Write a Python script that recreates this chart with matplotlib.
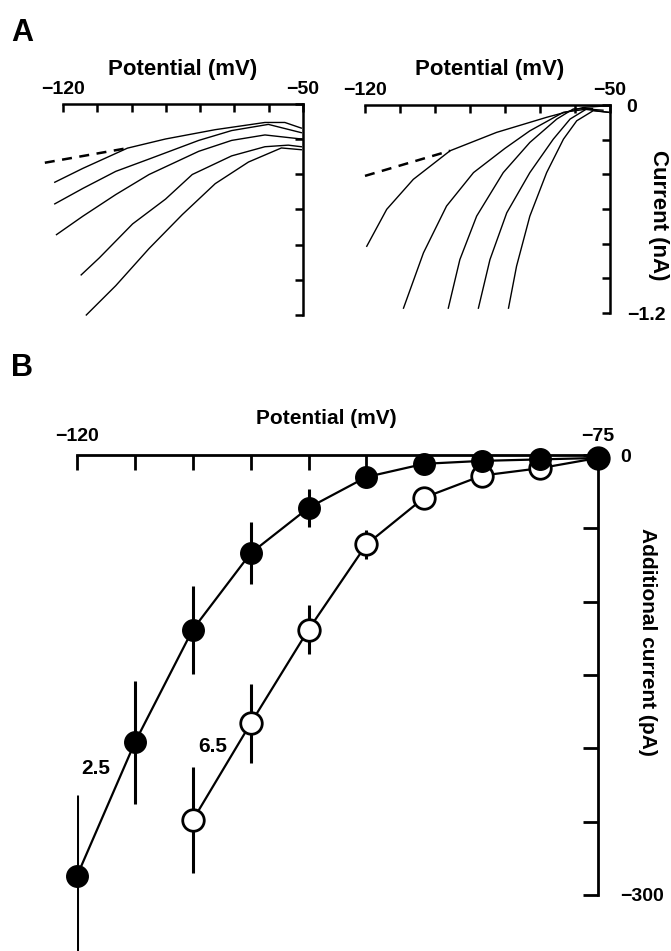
import numpy as np
import matplotlib
matplotlib.use("Agg")
import matplotlib.pyplot as plt

plt.rcParams['font.family'] = ['Liberation Sans', 'DejaVu Sans']
plt.rcParams['font.weight'] = 'bold'

W, H = 671, 951

# --- Panel A, left: ramp I-V traces (mV, nA)
a_left_dash_v = [-125.3, -101.2]
a_left_dash_i = [-0.334, -0.251]
a_left_traces = [
    ([-122.4, -114.2, -101.2, -90.1, -75.6, -61.1, -55.3, -50.5],
     [-0.445, -0.366, -0.251, -0.199, -0.146, -0.105, -0.105, -0.137]),
    ([-122.4, -114.2, -104.6, -94.9, -80.4, -70.8, -60.1, -50.5],
     [-0.568, -0.480, -0.383, -0.313, -0.207, -0.151, -0.116, -0.163]),
    ([-121.9, -114.2, -104.6, -94.9, -80.4, -70.8, -61.1, -50.5],
     [-0.743, -0.638, -0.515, -0.401, -0.269, -0.207, -0.176, -0.199]),
    ([-114.7, -109.4, -99.7, -90.1, -82.3, -70.8, -61.1, -54.3, -50.5],
     [-0.972, -0.875, -0.682, -0.541, -0.401, -0.295, -0.243, -0.234, -0.243]),
    ([-113.2, -104.6, -94.9, -85.2, -75.6, -65.9, -56.3, -50.5],
     [-1.200, -1.033, -0.822, -0.629, -0.453, -0.330, -0.250, -0.260]),
]

# --- Panel A, right
a_right_dash_v = [-120.0, -95.7]
a_right_dash_i = [-0.409, -0.264]
a_right_traces = [
    ([-119.5, -113.8, -106.2, -95.7, -82.4, -68.1, -57.6, -50.5],
     [-0.815, -0.602, -0.429, -0.264, -0.158, -0.071, -0.014, -0.004]),
    ([-109.0, -103.3, -96.7, -89.0, -80.0, -72.9, -63.3, -57.0, -50.5],
     [-1.172, -0.853, -0.583, -0.390, -0.250, -0.149, -0.042, -0.025, -0.042]),
    ([-96.2, -92.9, -88.1, -80.5, -72.9, -65.2, -60.5, -55.0],
     [-1.172, -0.892, -0.641, -0.390, -0.216, -0.081, -0.023, -0.020]),
    ([-87.6, -84.3, -79.5, -72.9, -66.2, -61.4, -56.7, -52.0],
     [-1.172, -0.892, -0.622, -0.390, -0.197, -0.081, -0.023, -0.030]),
    ([-79.0, -76.7, -72.9, -68.1, -63.3, -59.5, -54.8, -50.5],
     [-1.172, -0.930, -0.641, -0.390, -0.197, -0.091, -0.033, -0.042]),
]

# --- Panel B: additional current (pA)
b_v_filled = [-120, -115, -110, -105, -100, -95, -90, -85, -80, -75]
b_i_filled = [-287, -196, -119, -67, -36, -15, -6, -4, -3, -2]
b_e_filled = [55, 42, 30, 21, 13, 6, 3, 3, 3, 0]
b_v_open = [-110, -105, -100, -95, -90, -85, -80, -75]
b_i_open = [-249, -183, -119, -61, -29, -14, -9, -2]
b_e_open = [36, 27, 17, 10, 6, 4, 3, 0]


def px_axes(fig, x0, y0, x1, y1):
    # pixel box (top-left origin) -> axes
    return fig.add_axes([x0 / W, 1 - y1 / H, (x1 - x0) / W, (y1 - y0) / H])


def style_axes(ax, tick_len, lw):
    ax.spines['left'].set_visible(False)
    ax.spines['bottom'].set_visible(False)
    ax.spines['top'].set_linewidth(lw)
    ax.spines['right'].set_linewidth(lw)
    ax.xaxis.tick_top()
    ax.yaxis.tick_right()
    ax.tick_params(axis='both', direction='in', length=tick_len, width=lw)
    ax.patch.set_alpha(0)


fig = plt.figure(figsize=(W / 100, H / 100), dpi=100)

# Panel A
for box, dash_v, dash_i, traces, ylabels in [
        ((63, 104, 303, 315), a_left_dash_v, a_left_dash_i, a_left_traces, False),
        ((365, 105, 610, 313), a_right_dash_v, a_right_dash_i, a_right_traces, True)]:
    ax = px_axes(fig, *box)
    ax.set_xlim(-120, -50)
    ax.set_ylim(-1.2, 0)
    style_axes(ax, 6, 1.8)
    ax.set_xticks(np.arange(-120, -49, 10))
    ax.set_xticklabels(['−120', '', '', '', '', '', '', '−50'], fontsize=14, fontweight='bold')
    ax.tick_params(axis='x', pad=4)
    ax.set_yticks(np.arange(-1.2, 0.01, 0.2))
    if ylabels:
        ax.set_yticklabels(['−1.2', '', '', '', '', '', '0'], fontsize=14, fontweight='bold')
        ax.tick_params(axis='y', pad=12)
    else:
        ax.set_yticklabels([])
    for v, i in traces:
        ax.plot(v, i, color='black', lw=1.0, clip_on=False)
    ax.plot(dash_v, dash_i, color='black', lw=1.8, ls=(0, (4, 3)), clip_on=False)

fig.text(183 / W, 1 - 70 / H, 'Potential (mV)', ha='center', va='center', fontsize=16, fontweight='bold')
fig.text(490 / W, 1 - 70 / H, 'Potential (mV)', ha='center', va='center', fontsize=16, fontweight='bold')
fig.text(659 / W, 1 - 215 / H, 'Current (nA)', ha='center', va='center', rotation=270,
         fontsize=16, fontweight='bold')
fig.text(22 / W, 1 - 33 / H, 'A', ha='center', va='center', fontsize=22, fontweight='bold')

# Panel B
axb = px_axes(fig, 77, 455, 598, 951)
axb.set_xlim(-120, -75)
axb.set_ylim(-338.2, 0)
style_axes(axb, 11, 2.0)
axb.spines['right'].set_bounds(-300, 0)
axb.set_xticks(np.arange(-120, -74, 5))
axb.set_xticklabels(['−120'] + [''] * 8 + ['−75'], fontsize=14, fontweight='bold')
axb.tick_params(axis='x', pad=7)
axb.set_yticks(np.arange(-300, 1, 50))
axb.set_yticklabels(['−300', '', '', '', '', '', '0'], fontsize=14, fontweight='bold')
axb.tick_params(axis='y', pad=16)

axb.vlines(b_v_open, np.array(b_i_open) - b_e_open, np.array(b_i_open) + b_e_open,
           color='black', lw=2.2, zorder=2, clip_on=True)
axb.plot(b_v_open, b_i_open, color='black', lw=1.6, marker='o', ms=15.5,
         mfc='white', mec='black', mew=2.0, zorder=3, clip_on=False)
axb.vlines(b_v_filled, np.array(b_i_filled) - b_e_filled, np.array(b_i_filled) + b_e_filled,
           color='black', lw=2.2, zorder=4, clip_on=True)
axb.plot(b_v_filled, b_i_filled, color='black', lw=1.6, marker='o', ms=15.5,
         mfc='black', mec='black', zorder=5, clip_on=False)

axb.text(-118.4, -214, '2.5', ha='center', va='center', fontsize=15, fontweight='bold')
axb.text(-108.3, -199, '6.5', ha='center', va='center', fontsize=15, fontweight='bold')

fig.text(326 / W, 1 - 419 / H, 'Potential (mV)', ha='center', va='center', fontsize=15, fontweight='bold')
fig.text(648 / W, 1 - 642 / H, 'Additional current (pA)', ha='center', va='center', rotation=270,
         fontsize=15, fontweight='bold')
fig.text(22 / W, 1 - 368 / H, 'B', ha='center', va='center', fontsize=22, fontweight='bold')

fig.savefig('out.png', dpi=100)
